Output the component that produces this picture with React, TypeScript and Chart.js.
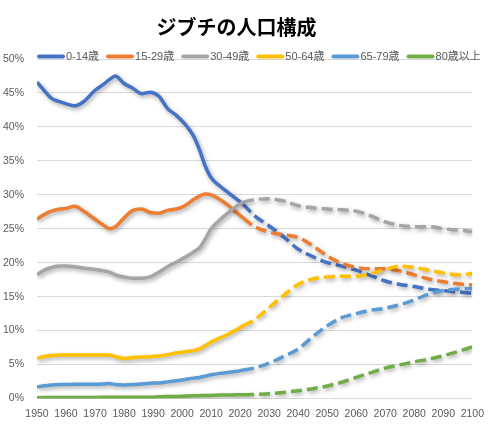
import { useEffect, useRef } from 'react';
import Chart from 'chart.js/auto';

// years; values are shares of population in %
const years = [
  1950, 1952, 1955, 1958, 1960, 1963, 1966, 1970, 1973, 1975, 1977, 1980, 1983, 1986, 1989,
  1992, 1995, 1998, 2001, 2004, 2006, 2008, 2010, 2013, 2016, 2019, 2021,
  2025, 2030, 2035, 2040, 2045, 2050, 2055, 2060, 2065, 2070, 2075, 2080, 2085, 2090, 2095, 2100,
];

const ageGroups = ['0-14歳', '15-29歳', '30-49歳', '50-64歳', '65-79歳', '80歳以上'];
const groupColors = ['#4472C4', '#ED7D31', '#A5A5A5', '#FFC000', '#5B9BD5', '#70AD47'];

const age0to14 = [
  46.6, 45.6, 44.2, 43.7, 43.4, 43.1, 43.7, 45.4, 46.3, 47.0, 47.5, 46.4, 45.7, 44.9, 45.1,
  44.5, 42.7, 41.7, 40.4, 38.6, 36.6, 34.2, 32.5, 31.3, 30.3, 29.3, 28.6,
  26.9, 25.4, 23.8, 22.0, 20.9, 20.0, 19.5, 18.9, 18.1, 17.3, 16.8, 16.5, 16.1, 15.9, 15.7, 15.5,
];
const age15to29 = [
  26.4, 27.0, 27.6, 27.9, 28.0, 28.3, 27.6, 26.4, 25.5, 25.0, 25.3, 26.6, 27.7, 27.9, 27.4,
  27.3, 27.7, 27.9, 28.4, 29.3, 29.8, 30.1, 30.0, 29.3, 28.4, 27.3, 26.6,
  25.3, 24.5, 24.1, 23.7, 22.5, 21.0, 19.9, 19.3, 19.1, 19.1, 18.8, 18.2, 17.6, 17.2, 16.9, 16.7,
];
const age30to49 = [
  18.2, 18.8, 19.3, 19.5, 19.5, 19.4, 19.2, 19.0, 18.8, 18.6, 18.2, 17.9, 17.7, 17.7, 17.9,
  18.6, 19.4, 20.1, 20.8, 21.6, 22.2, 23.5, 25.0, 26.3, 27.4, 28.4, 28.9,
  29.3, 29.4, 29.1, 28.4, 28.1, 27.9, 27.8, 27.6, 26.9, 26.0, 25.5, 25.3, 25.3, 25.0, 24.8, 24.6,
];
const age50to64 = [
  5.9, 6.15, 6.35, 6.4, 6.4, 6.4, 6.4, 6.4, 6.4, 6.4, 6.15, 5.9, 6.05, 6.1, 6.15,
  6.25, 6.45, 6.7, 6.9, 7.05, 7.3, 7.8, 8.3, 8.9, 9.5, 10.2, 10.7,
  11.6, 13.4, 15.2, 16.8, 17.6, 17.9, 18.0, 18.0, 18.4, 19.0, 19.5, 19.3, 18.9, 18.5, 18.2, 18.4,
];
const age65to79 = [
  1.7, 1.85, 2.0, 2.05, 2.05, 2.1, 2.1, 2.1, 2.15, 2.2, 2.05, 2.0, 2.05, 2.15, 2.25,
  2.3, 2.45, 2.6, 2.8, 3.0, 3.1, 3.3, 3.5, 3.7, 3.85, 4.0, 4.2,
  4.5, 5.2, 6.2, 7.3, 9.1, 10.7, 11.9, 12.5, 13.0, 13.3, 13.8, 14.5, 15.4, 15.9, 16.1, 16.2,
];
const age80plus = [
  0.1, 0.15, 0.15, 0.15, 0.15, 0.15, 0.15, 0.15, 0.2, 0.2, 0.2, 0.2, 0.2, 0.2, 0.2,
  0.25, 0.3, 0.3, 0.35, 0.4, 0.4, 0.45, 0.45, 0.5, 0.5, 0.55, 0.55,
  0.6, 0.7, 0.9, 1.15, 1.45, 1.85, 2.4, 3.1, 3.8, 4.5, 4.95, 5.4, 5.8, 6.3, 6.9, 7.6,
];

const seriesValues = [age0to14, age15to29, age30to49, age50to64, age65to79, age80plus];

// from this year on the values are projections (dashed)
const projectionStart = 2021;

const labelFont = '"Liberation Sans", "Noto Sans CJK JP", sans-serif';

// Excel-like drop shadow under each line
const shadowPlugin = {
  id: 'lineShadow',
  beforeDatasetDraw(chart: Chart) {
    const ctx = chart.ctx;
    ctx.save();
    ctx.shadowColor = 'rgba(0, 0, 0, 0.35)';
    ctx.shadowBlur = 4;
    ctx.shadowOffsetX = 1.5;
    ctx.shadowOffsetY = 2;
  },
  afterDatasetDraw(chart: Chart) {
    chart.ctx.restore();
  },
};

// legend drawn over the top gridline, like the original
const inlineLegend = {
  id: 'inlineLegend',
  afterDraw(chart: Chart) {
    const ctx = chart.ctx;
    const y = 56.5;
    let x = 37;
    ctx.save();
    ctx.font = `11px ${labelFont}`;
    ctx.textBaseline = 'middle';
    chart.data.datasets.forEach((ds: any) => {
      ctx.strokeStyle = ds.borderColor;
      ctx.lineWidth = 4;
      ctx.lineCap = 'round';
      ctx.beginPath();
      ctx.moveTo(x + 2, y);
      ctx.lineTo(x + 26, y);
      ctx.stroke();
      ctx.fillStyle = '#595959';
      ctx.fillText(ds.label, x + 29, y);
      x += 29 + ctx.measureText(ds.label).width + 7;
    });
    ctx.restore();
  },
};

export default function App() {
  const canvasRef = useRef<HTMLCanvasElement | null>(null);

  useEffect(() => {
    if (!canvasRef.current) return;

    const datasets = ageGroups.map((label, i) => ({
      label,
      data: years.map((year, j) => ({ x: year, y: seriesValues[i][j] })),
      borderColor: groupColors[i],
      backgroundColor: groupColors[i],
      borderWidth: 3.5,
      pointRadius: 0,
      cubicInterpolationMode: 'monotone' as const,
      order: ageGroups.length - i,
      segment: {
        borderDash: (c: any) => (c.p0.parsed.x >= projectionStart ? [11, 5] : undefined),
      },
    }));

    const chart = new Chart(canvasRef.current, {
      type: 'line',
      data: { datasets },
      options: {
        responsive: true,
        maintainAspectRatio: false,
        animation: false,
        layout: { padding: { left: 0, right: 20, top: 0, bottom: 0 } },
        plugins: {
          legend: { display: false },
          tooltip: { enabled: false },
          title: {
            display: true,
            text: 'ジブチの人口構成',
            color: '#000000',
            font: { family: '"Noto Sans CJK JP", sans-serif', size: 20, weight: 'bold' },
            padding: { top: 15, bottom: 20 },
          },
        },
        scales: {
          x: {
            type: 'linear',
            min: 1950,
            max: 2100,
            grid: { display: false, drawTicks: false },
            border: { display: false },
            ticks: {
              stepSize: 10,
              padding: 9,
              maxRotation: 0,
              color: '#595959',
              font: { family: labelFont, size: 10.5 },
              callback: (v: any) => String(v),
            },
            afterFit: (scale: any) => {
              scale.height = 33.5;
            },
          },
          y: {
            min: 0,
            max: 50,
            grid: { color: '#D9D9D9', drawTicks: false },
            border: { display: false },
            ticks: {
              stepSize: 5,
              padding: 13,
              color: '#595959',
              font: { family: labelFont, size: 10.5 },
              callback: (v: any) => `${v}%`,
            },
            afterFit: (scale: any) => {
              scale.width = 37;
            },
          },
        },
      },
      plugins: [shadowPlugin, inlineLegend],
    });

    return () => {
      chart.destroy();
    };
  }, []);

  return (
    <div style={{ position: 'absolute', left: 0, top: 0, width: 493, height: 432, background: '#fff' }}>
      <canvas ref={canvasRef} />
    </div>
  );
}
